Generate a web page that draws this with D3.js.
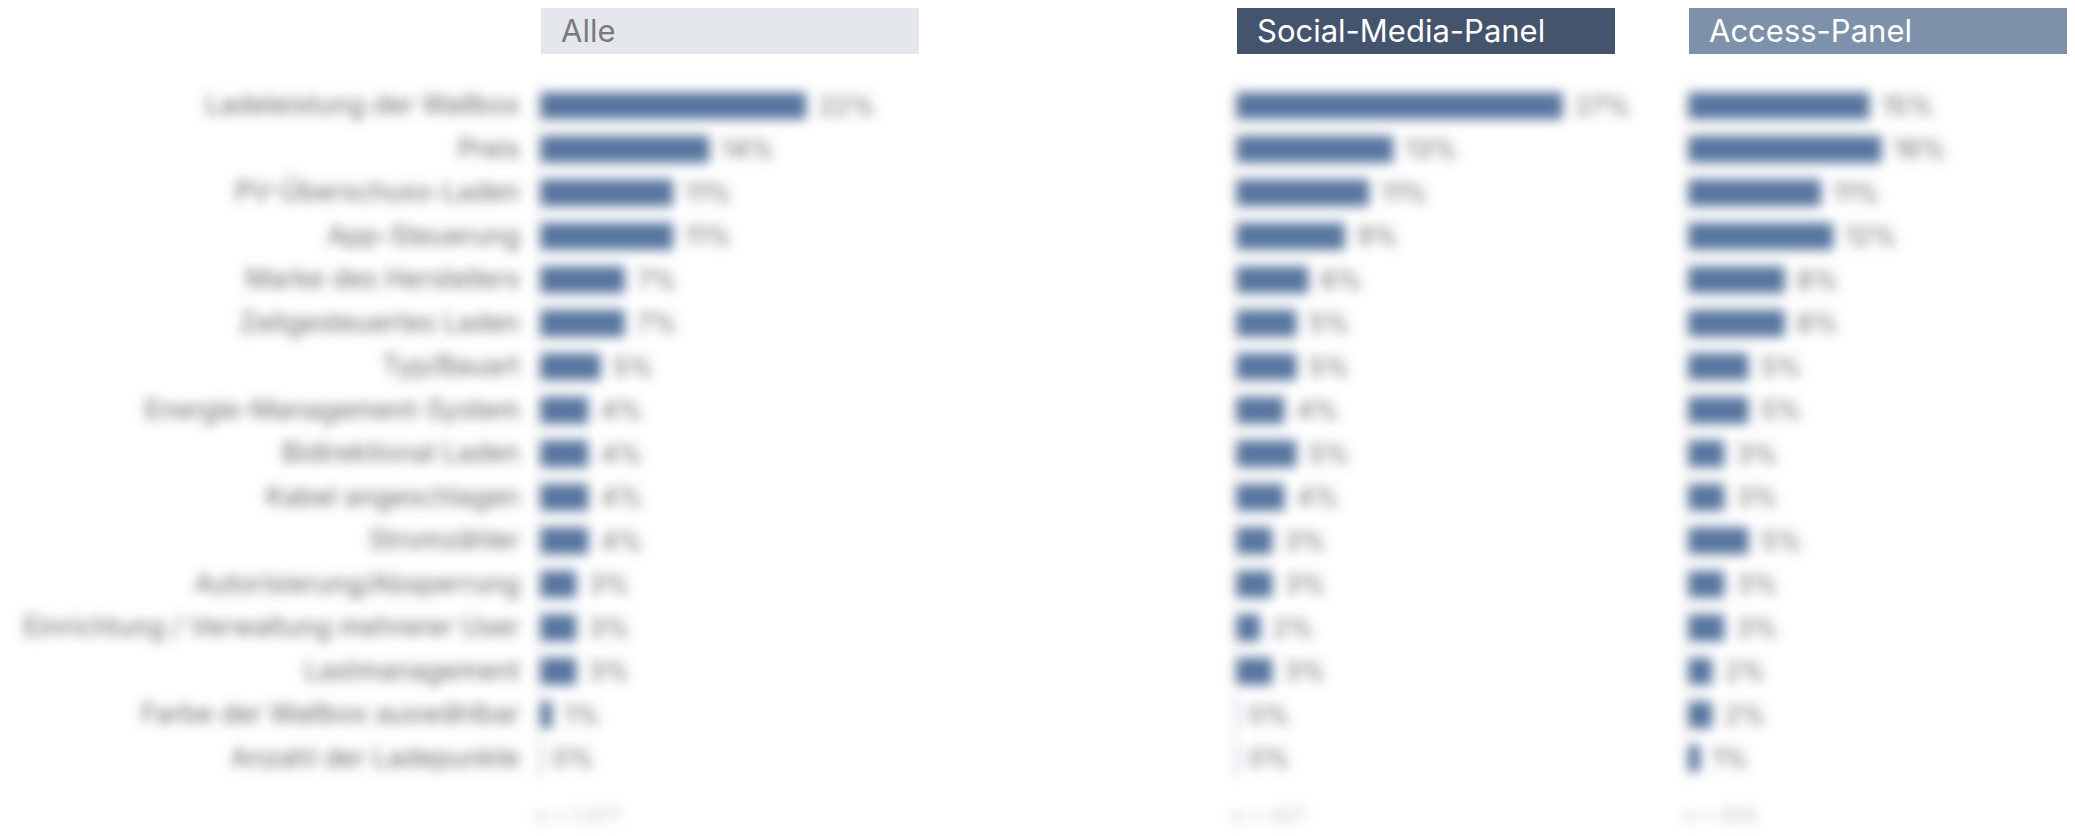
<!DOCTYPE html>
<html>
<head>
<meta charset="utf-8">
<script src="https://cdn.jsdelivr.net/npm/d3@7/dist/d3.min.js"></script>
<style>
  html, body { margin: 0; padding: 0; background: #ffffff; }
  svg { display: block; font-family: Inter, "Noto Sans", sans-serif; }
</style>
</head>
<body>
<svg id="chart" width="2075" height="836"></svg>
<script>
// Wichtigste Kaufkriterien für Wallboxen, Anteile in Prozent
const categories = [
  "Ladeleistung der Wallbox",
  "Preis",
  "PV-Überschuss-Laden",
  "App-Steuerung",
  "Marke des Herstellers",
  "Zeitgesteuertes Laden",
  "Typ/Bauart",
  "Energie-Management-System",
  "Bidirektional Laden",
  "Kabel angeschlagen",
  "Stromzähler",
  "Autorisierung/Absperrung",
  "Einrichtung / Verwaltung mehrerer User",
  "Lastmanagement",
  "Farbe der Wallbox auswählbar",
  "Anzahl der Ladepunkte"
];
const panelNames = ["Alle", "Social-Media-Panel", "Access-Panel"];
const valuesAlle   = [22, 14, 11, 11, 7, 7, 5, 4, 4, 4, 4, 3, 3, 3, 1, 0];
const valuesSocial = [27, 13, 11, 9, 6, 5, 5, 4, 5, 4, 3, 3, 2, 3, 0, 0];
const valuesAccess = [15, 16, 11, 12, 8, 8, 5, 5, 3, 3, 5, 3, 3, 2, 2, 1];
const sampleSizes  = ["n = 1.377", "n = 427", "n = 950"];

const panels = [
  { name: panelNames[0], values: valuesAlle,   n: sampleSizes[0], x0: 540,  headFill: "#e4e7ec", headText: "#7a7a7a" },
  { name: panelNames[1], values: valuesSocial, n: sampleSizes[1], x0: 1236, headFill: "#44546c", headText: "#ffffff" },
  { name: panelNames[2], values: valuesAccess, n: sampleSizes[2], x0: 1688, headFill: "#7d91ab", headText: "#ffffff" }
];

const svg = d3.select("#chart");

// soft focus applied to the chart body
const defs = svg.append("defs");
defs.append("filter")
  .attr("id", "soft")
  .attr("x", "-5%").attr("y", "-5%").attr("width", "110%").attr("height", "110%")
  .append("feGaussianBlur").attr("stdDeviation", 6);

const x = d3.scaleLinear().domain([0, 30]).range([0, 363]);
const y = d3.scaleBand().domain(categories).range([84, 780]).paddingInner(0.38).paddingOuter(0.19);

const body = svg.append("g").attr("filter", "url(#soft)");

// category labels
body.append("g")
  .attr("transform", `translate(${panels[0].x0},0)`)
  .call(d3.axisLeft(y).tickSize(0).tickPadding(20))
  .call(g => g.select(".domain").remove())
  .call(g => g.selectAll("text")
    .attr("fill", "#666666")
    .style("font-family", "Inter, sans-serif")
    .style("font-size", "26.5px"));

panels.forEach(p => {
  const g = body.append("g").attr("transform", `translate(${p.x0},0)`);

  // baseline
  g.append("line")
    .attr("x1", 0).attr("x2", 0)
    .attr("y1", y.range()[0]).attr("y2", y.range()[1])
    .attr("stroke", "#d6d6d6").attr("stroke-width", 2);

  const rows = categories.map((c, i) => ({ c, v: p.values[i] }));

  g.selectAll("rect.bar").data(rows).join("rect")
    .attr("class", "bar")
    .attr("x", 0)
    .attr("y", d => y(d.c))
    .attr("width", d => Math.max(x(d.v), 3))
    .attr("height", y.bandwidth())
    .attr("fill", d => d.v === 0 ? "#c9d3e3" : "#56749f");

  g.selectAll("text.val").data(rows).join("text")
    .attr("class", "val")
    .attr("x", d => x(d.v) + 12)
    .attr("y", d => y(d.c) + y.bandwidth() / 2)
    .attr("dy", "0.35em")
    .attr("fill", "#666666")
    .style("font-size", "26px")
    .text(d => d.v + "%");

  g.append("text")
    .attr("x", -4).attr("y", 816)
    .attr("dy", "0.35em")
    .attr("fill", "#c0c0c0")
    .style("font-size", "20px")
    .text(p.n);
});

// panel headers
panels.forEach(p => {
  const h = svg.append("g").attr("transform", `translate(${p.x0 + 1},8)`);
  h.append("rect").attr("width", 378).attr("height", 46).attr("fill", p.headFill);
  h.append("text")
    .attr("x", 20).attr("y", 23).attr("dy", "0.36em")
    .attr("fill", p.headText)
    .style("font-size", "31px")
    .text(p.name);
});
</script>
</body>
</html>
